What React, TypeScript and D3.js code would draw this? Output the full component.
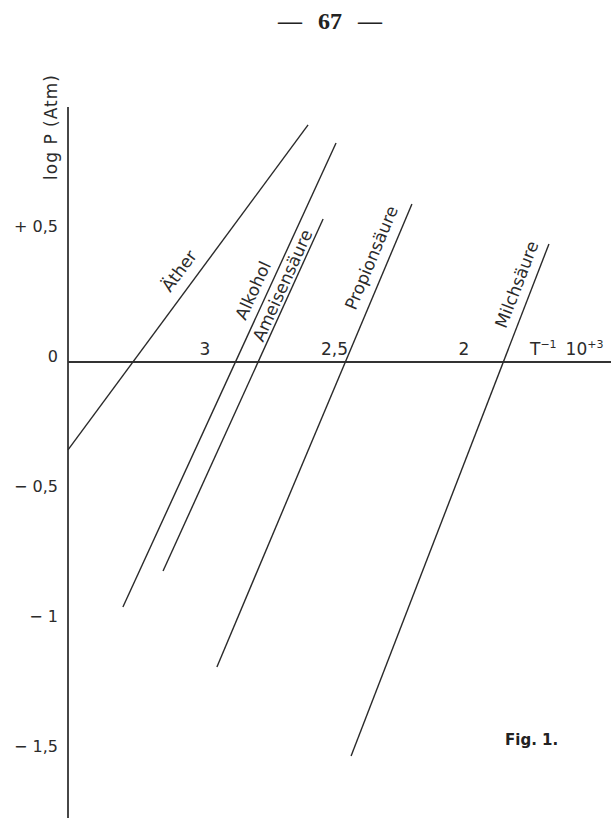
import { line as d3Line, scaleLinear } from "d3";

// vapour pressure lines, log P (Atm) against T^-1 * 10^3
const substances = ["Äther", "Alkohol", "Ameisensäure", "Propionsäure", "Milchsäure"];
const invTStart = [3.529, 3.317, 3.162, 2.954, 2.436];
const logPStart = [-0.338, -0.942, -0.804, -1.173, -1.515];
const invTEnd = [2.602, 2.494, 2.544, 2.201, 1.672];
const logPEnd = [0.912, 0.842, 0.55, 0.608, 0.454];

const xTicks = [3, 2.5, 2];
const xTickLabels = ["3", "2,5", "2"];
const yTicks = [0.5, 0, -0.5, -1, -1.5];
const yTickLabels = ["+ 0,5", "0", "− 0,5", "− 1", "− 1,5"];

// where each name sits along its line (fraction) and its distance from it
const labelT = [0.52, 0.67, 0.8, 0.87, 0.91];
const labelOffset = [11, 8, 3.5, 10.5, 9.5];

const W = 611;
const H = 818;
const AXIS_X = 68;
const AXIS_TOP = 107;
const FONT = "'DejaVu Sans', sans-serif";
const INK = "#2b2b2b";

export default function App() {
  const x = scaleLinear().domain([3, 2]).range([205, 464]);
  const y = scaleLinear().domain([0, 0.5]).range([362, 232]);

  const lineGen = d3Line<[number, number]>()
    .x((d) => x(d[0]))
    .y((d) => y(d[1]));

  const rows = substances.map((name, i) => {
    const pts: [number, number][] = [
      [invTStart[i], logPStart[i]],
      [invTEnd[i], logPEnd[i]],
    ];
    const x0 = x(invTStart[i]);
    const y0 = y(logPStart[i]);
    const x1 = x(invTEnd[i]);
    const y1 = y(logPEnd[i]);
    const angle = (Math.atan2(y1 - y0, x1 - x0) * 180) / Math.PI;
    const t = labelT[i];
    return {
      name,
      path: lineGen(pts) || "",
      lx: x0 + (x1 - x0) * t,
      ly: y0 + (y1 - y0) * t,
      angle,
      off: labelOffset[i],
    };
  });

  return (
    <svg
      width={W}
      height={H}
      viewBox={`0 0 ${W} ${H}`}
      style={{ position: "absolute", left: 0, top: 0, background: "#fff" }}
    >
      {/* page number */}
      <text
        x={330}
        y={29}
        textAnchor="middle"
        fontFamily="'Liberation Serif', serif"
        fontWeight="bold"
        fontSize={24}
        wordSpacing={10}
        fill="#222"
      >
        — 67 —
      </text>

      {/* axes */}
      <line x1={AXIS_X} x2={AXIS_X} y1={AXIS_TOP} y2={H} stroke="#333" strokeWidth={1.8} />
      <line x1={AXIS_X} x2={W} y1={y(0)} y2={y(0)} stroke="#333" strokeWidth={1.8} />

      <text
        transform={`translate(57,127) rotate(-90)`}
        textAnchor="middle"
        fontFamily={FONT}
        fontSize={17}
        letterSpacing={1}
        fill={INK}
      >
        log P (Atm)
      </text>

      {yTicks.map((v, i) => (
        <text
          key={v}
          x={58}
          y={y(v)}
          textAnchor="end"
          fontFamily={FONT}
          fontSize={16}
          fill={INK}
        >
          {yTickLabels[i]}
        </text>
      ))}

      {xTicks.map((v, i) => (
        <text
          key={v}
          x={x(v)}
          y={y(0) - 7}
          textAnchor="middle"
          fontFamily={FONT}
          fontSize={17}
          fill={INK}
        >
          {xTickLabels[i]}
        </text>
      ))}

      <text x={530} y={y(0) - 7} fontFamily={FONT} fontSize={17} fill={INK}>
        T
        <tspan fontSize={11} dy={-7}>
          −1
        </tspan>
        <tspan dy={7} dx={9}>
          10
        </tspan>
        <tspan fontSize={11} dy={-7}>
          +3
        </tspan>
      </text>

      {rows.map((r) => (
        <g key={r.name}>
          <path d={r.path} fill="none" stroke="#2a2a2a" strokeWidth={1.4} />
          <text
            transform={`translate(${r.lx},${r.ly}) rotate(${r.angle})`}
            y={-r.off}
            textAnchor="middle"
            fontFamily={FONT}
            fontSize={17}
            fill={INK}
          >
            {r.name}
          </text>
        </g>
      ))}

      <text x={505} y={745} fontFamily={FONT} fontWeight="bold" fontSize={15} fill="#222">
        Fig. 1.
      </text>
    </svg>
  );
}
